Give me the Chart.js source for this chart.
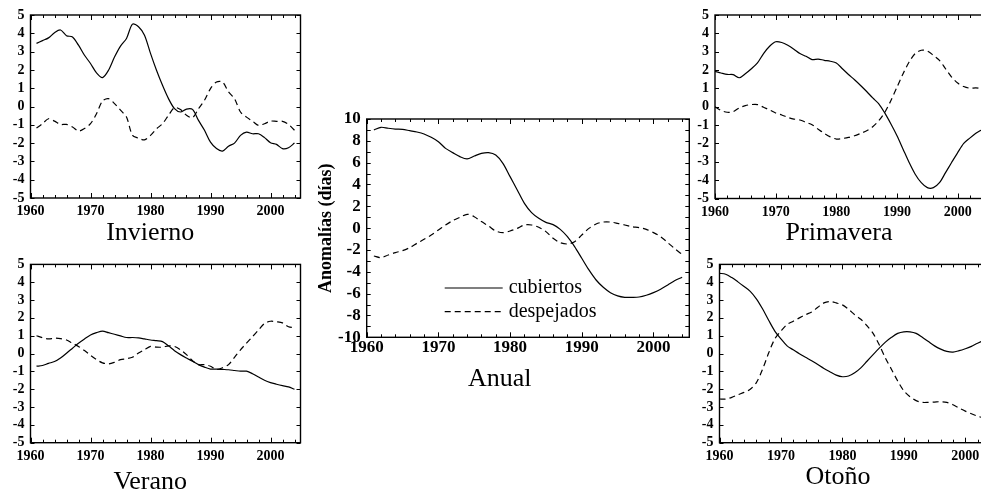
<!DOCTYPE html>
<html><head><meta charset="utf-8">
<script src="https://cdn.jsdelivr.net/npm/chart.js@4.4.1/dist/chart.umd.min.js"></script>
<style>
html,body{margin:0;padding:0;width:981px;height:492px;overflow:hidden;background:#fff;}
.p{position:absolute;}
</style></head><body>
<div class="p" id="w-inv" style="left:0px;top:0px;width:304px;height:250px"><canvas id="inv"></canvas></div>
<div class="p" id="w-ver" style="left:0px;top:250px;width:304px;height:260px"><canvas id="ver"></canvas></div>
<div class="p" id="w-anu" style="left:310px;top:100px;width:382px;height:300px"><canvas id="anu"></canvas></div>
<div class="p" id="w-pri" style="left:690px;top:0px;width:458px;height:250px"><canvas id="pri"></canvas></div>
<div class="p" id="w-oto" style="left:680px;top:250px;width:325px;height:260px"><canvas id="oto"></canvas></div>
<script>
// ---------- DATA ----------
const yearsA = [1961,1962,1963,1964,1965,1966,1967,1968,1969,1970,1971,1972,1973,1974,1975,1976,1977,1978,1979,1980,1981,1982,1983,1984,1985,1986,1987,1988,1989,1990,1991,1992,1993,1994,1995,1996,1997,1998,1999,2000,2001,2002,2003,2004];
const yearsB = [1960,1961,1962,1963,1964,1965,1966,1967,1968,1969,1970,1971,1972,1973,1974,1975,1976,1977,1978,1979,1980,1981,1982,1983,1984,1985,1986,1987,1988,1989,1990,1991,1992,1993,1994,1995,1996,1997,1998,1999,2000,2001,2002,2003,2004];
const xTickLabels = [1960,1970,1980,1990,2000];
const seriesNames = ['cubiertos','despejados'];

const invCub  = [3.45,3.6,3.75,4.03,4.18,3.87,3.8,3.35,2.8,2.35, 1.84,1.58,1.98,2.7,3.3,3.72,4.5,4.36,3.9,2.9, 1.98,1.16,0.43,-0.12,-0.3,-0.14,-0.16,-0.76,-1.3,-1.95, -2.3,-2.44,-2.17,-2.0,-1.58,-1.4,-1.49,-1.49,-1.7,-1.98, -2.07,-2.3,-2.25,-2.0];
const invDesp = [-1.18,-0.94,-0.67,-0.8,-0.98,-0.98,-1.12,-1.34,-1.2,-0.94, -0.4,0.3,0.43,0.16,-0.2,-0.58,-1.58,-1.73,-1.82,-1.58, -1.22,-0.94,-0.48,-0.06,-0.17,-0.48,-0.61,-0.12,0.34,0.98, 1.34,1.34,0.8,0.43,-0.3,-0.58,-0.8,-1.03,-0.94,-0.8, -0.81,-0.81,-0.98,-1.3];

const verCub  = [-0.71,-0.67,-0.55,-0.45,-0.25,0.02,0.3,0.58,0.82,1.04, 1.17,1.26,1.17,1.08,0.99,0.9,0.9,0.88,0.82,0.76, 0.72,0.67,0.43,0.16,-0.06,-0.25,-0.43,-0.62,-0.76,-0.87, -0.87,-0.89,-0.91,-0.95,-0.99,-0.99,-1.13,-1.32,-1.5,-1.63, -1.72,-1.8,-1.87,-2.0];
const verDesp = [1.0,0.89,0.82,0.86,0.84,0.76,0.58,0.4,0.17,-0.1, -0.34,-0.52,-0.58,-0.49,-0.34,-0.29,-0.21,0.03,0.21,0.4, 0.36,0.36,0.43,0.4,0.21,-0.06,-0.4,-0.62,-0.62,-0.71, -0.89,-0.8,-0.62,-0.21,0.21,0.58,0.95,1.32,1.69,1.81, 1.78,1.72,1.5,1.45];

const anuCub  = [8.99,9.24,9.15,9.08,9.05,8.93,8.81,8.63,8.32,7.92, 7.31,6.92,6.55,6.34,6.61,6.85,6.92,6.7,5.94,4.72, 3.5,2.27,1.42,0.9,0.53,0.32,-0.11,-0.78,-1.69,-2.76, -3.83,-4.75,-5.42,-5.91,-6.21,-6.34,-6.34,-6.31,-6.15,-5.91, -5.6,-5.2,-4.8,-4.5];
const anuDesp = [-2.55,-2.7,-2.46,-2.24,-2.06,-1.79,-1.39,-1.02,-0.63,-0.17, 0.29,0.69,0.99,1.27,1.05,0.6,0.2,-0.26,-0.41,-0.26, -0.02,0.29,0.29,0.08,-0.32,-0.93,-1.33,-1.45,-1.24,-0.63, -0.02,0.38,0.56,0.56,0.44,0.29,0.14,0.05,-0.11,-0.41, -0.78,-1.33,-1.9,-2.4];

const priCub  = [1.93,1.84,1.76,1.75,1.58,1.8,2.07,2.39,2.9,3.3, 3.54,3.5,3.35,3.14,2.9,2.75,2.57,2.6,2.53,2.48, 2.39,2.07,1.76,1.47,1.16,0.83,0.48,0.16,-0.35,-0.94, -1.58,-2.31,-3.04,-3.68,-4.14,-4.41,-4.41,-4.14,-3.59,-3.04, -2.5,-2.0,-1.71,-1.45,-1.25];
const priDesp = [0.0,-0.2,-0.3,-0.27,-0.06,0.06,0.12,0.12,-0.03,-0.17, -0.34,-0.45,-0.58,-0.67,-0.72,-0.85,-0.98,-1.22,-1.45,-1.64, -1.76,-1.73,-1.67,-1.58,-1.45,-1.31,-1.09,-0.76,-0.3,0.34, 1.07,1.8,2.44,2.9,3.08,3.04,2.8,2.53,2.07,1.62, 1.29,1.1,1.01,1.03,0.98];

const otoCub  = [4.5,4.45,4.26,4.02,3.76,3.49,3.07,2.51,1.87,1.26, 0.82,0.43,0.21,-0.01,-0.21,-0.4,-0.62,-0.84,-1.03,-1.21, -1.3,-1.26,-1.08,-0.8,-0.43,-0.06,0.3,0.64,0.91,1.13, 1.22,1.22,1.13,0.91,0.67,0.43,0.25,0.12,0.08,0.16, 0.27,0.4,0.58,0.71,0.75];
const otoDesp = [-2.55,-2.55,-2.46,-2.31,-2.18,-2.0,-1.63,-0.89,0.03,0.82, 1.26,1.63,1.81,2.0,2.18,2.33,2.6,2.84,2.92,2.84, 2.73,2.48,2.18,1.92,1.56,1.13,0.49,-0.25,-0.89,-1.54, -2.09,-2.42,-2.64,-2.74,-2.74,-2.72,-2.7,-2.74,-2.87,-3.06, -3.23,-3.38,-3.51,-3.6,-3.62];

// ---------- STYLE / LAYOUT ----------
const SERIF = "'Liberation Serif','Times New Roman',serif";

const frameTicks = {
  id: 'frameTicks',
  afterDatasetsDraw(chart, args, o) {
    const {ctx, chartArea: a, scales: {x, y}} = chart;
    ctx.save();
    ctx.strokeStyle = '#000';
    ctx.lineWidth = 1;
    ctx.beginPath();
    for (let v = x.min; v <= x.max + 1e-9; v += 2) {
      const px = Math.round(x.getPixelForValue(v)) + 0.5;
      const len = (v % 10 === 0) ? 5 : 3;
      ctx.moveTo(px, a.bottom); ctx.lineTo(px, a.bottom - len);
      ctx.moveTo(px, a.top); ctx.lineTo(px, a.top + len);
    }
    for (let v = y.min; v <= y.max + 1e-9; v += o.yMinor) {
      const py = Math.round(y.getPixelForValue(v)) + 0.5;
      ctx.moveTo(a.left, py); ctx.lineTo(a.left + 4, py);
      ctx.moveTo(a.right, py); ctx.lineTo(a.right - 4, py);
    }
    ctx.stroke();
    ctx.lineWidth = 1.4;
    ctx.strokeRect(a.left, a.top, a.right - a.left, a.bottom - a.top);
    ctx.restore();
  }
};

const innerLegend = {
  id: 'innerLegend',
  afterDraw(chart, args, o) {
    if (!o.show) return;
    const {ctx, chartArea: a} = chart;
    ctx.save();
    chart.data.datasets.forEach((ds, i) => {
      const yy = a.top + o.top + i * o.gap;
      ctx.strokeStyle = ds.borderColor;
      ctx.lineWidth = ds.borderWidth;
      ctx.setLineDash(ds.borderDash || []);
      ctx.beginPath();
      ctx.moveTo(a.left + o.x0, yy); ctx.lineTo(a.left + o.x1, yy);
      ctx.stroke();
      ctx.setLineDash([]);
      ctx.fillStyle = '#000';
      ctx.font = o.font;
      ctx.textBaseline = 'middle';
      ctx.textAlign = 'left';
      ctx.fillText(ds.label, a.left + o.tx, yy);
    });
    ctx.restore();
  }
};

const panels = [
  {id:'inv', title:'Invierno',  yrs:yearsA, cub:invCub, desp:invDesp, ymin:-5, ymax:5, ystep:1, yMinor:1, tf:14, yW:30.5, xH:19.8, xPad:5, pad:{top:15,left:0,right:3.5,bottom:1}},
  {id:'ver', title:'Verano',    yrs:yearsA, cub:verCub, desp:verDesp, ymin:-5, ymax:5, ystep:1, yMinor:1, tf:14, yW:30.5, xH:23.4, xPad:5, pad:{top:11.7,left:0,right:3.5,bottom:12.7}},
  {id:'anu', title:'Anual',     yrs:yearsA, cub:anuCub, desp:anuDesp, ymin:-10, ymax:10, ystep:2, yMinor:1, tf:17, yW:56.7, xH:25.8, xPad:0, pad:{top:19,left:0,right:2.7,bottom:5.7}, yTitle:'Anomalías (días)', legend:true},
  {id:'pri', title:'Primavera', yrs:yearsB, cub:priCub, desp:priDesp, ymin:-5, ymax:5, ystep:1, yMinor:1, tf:14, yW:25, xH:18.6, xPad:5, pad:{top:15,left:0,right:160,bottom:1.7}},
  {id:'oto', title:'Otoño',     yrs:yearsB, cub:otoCub, desp:otoDesp, ymin:-5, ymax:5, ystep:1, yMinor:1, tf:14, yW:39.5, xH:18.4, xPad:5, pad:{top:11.7,left:0,right:9,bottom:17.7}}
];

panels.forEach(p => {
  const tickFont = {family: SERIF, weight: 'bold', size: p.tf};
  new Chart(document.getElementById(p.id), {
    type: 'line',
    data: {
      datasets: [
        {label: seriesNames[0], data: p.yrs.map((yr, i) => ({x: yr, y: p.cub[i]})), borderColor: '#000', borderWidth: 1.2, pointRadius: 0, tension: 0.3, fill: false},
        {label: seriesNames[1], data: p.yrs.map((yr, i) => ({x: yr, y: p.desp[i]})), borderColor: '#000', borderWidth: 1.2, borderDash: [6, 4], pointRadius: 0, tension: 0.3, fill: false}
      ]
    },
    options: {
      responsive: true, maintainAspectRatio: false, animation: false,
      layout: {padding: p.pad},
      scales: {
        x: {
          type: 'linear', min: 1960, max: 2005,
          grid: {display: false, drawTicks: false}, border: {display: false},
          ticks: {stepSize: 10, includeBounds: false, autoSkip: false, maxRotation: 0, padding: p.xPad, color: '#000', font: tickFont,
                  callback: v => xTickLabels.includes(v) ? String(v) : ''},
          afterFit: s => { s.height = p.xH; }
        },
        y: {
          min: p.ymin, max: p.ymax,
          grid: {display: false, drawTicks: false}, border: {display: false},
          ticks: {stepSize: p.ystep, autoSkip: false, padding: 6, color: '#000', font: tickFont},
          title: p.yTitle ? {display: true, text: p.yTitle, color: '#000', font: {family: SERIF, weight: 'bold', size: 18}, padding: {top: 6, bottom: 0}} : {display: false},
          afterFit: s => { s.width = p.yW; }
        }
      },
      plugins: {
        legend: {display: false},
        tooltip: {enabled: false},
        title: {display: true, position: 'bottom', text: p.title, color: '#000', padding: 0,
                font: {family: SERIF, weight: 'normal', size: 26, lineHeight: 1.2}},
        frameTicks: {yMinor: p.yMinor},
        innerLegend: {show: !!p.legend, x0: 78, x1: 136, tx: 142, top: 169, gap: 23.7, font: "20px " + SERIF}
      }
    },
    plugins: [frameTicks, innerLegend]
  });
});
</script>
</body></html>
